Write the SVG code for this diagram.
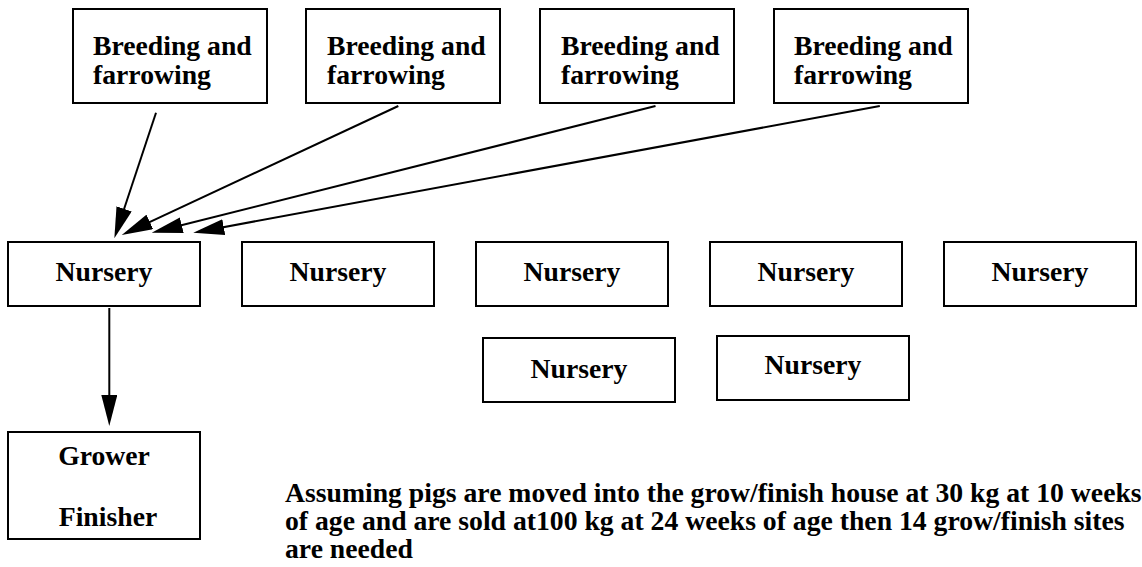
<svg xmlns="http://www.w3.org/2000/svg" width="1142" height="567" viewBox="0 0 1142 567">
<style>
.box{fill:#fff;stroke:#000;stroke-width:2}
.t{font-family:'Liberation Serif','DejaVu Serif',serif;font-weight:700;font-size:27.7px;fill:#000}
.c{text-anchor:middle}
.edge{stroke:#000;stroke-width:2;fill:none;marker-end:url(#ah)}
</style>
<defs>
<marker id="ah" markerUnits="userSpaceOnUse" viewBox="0 0 31 16" markerWidth="31" markerHeight="16" refX="21" refY="8" orient="auto">
<path d="M0,0 L31,8 L0,16 z" fill="#000"/>
</marker>
</defs>
<rect x="0" y="0" width="1142" height="567" fill="#fff"/>
<g id="connectors">
<line class="edge" x1="156" y1="112.7" x2="117.5" y2="228.8"/>
<line class="edge" x1="398.3" y1="106" x2="130.8" y2="230.8"/>
<line class="edge" x1="655.5" y1="106" x2="161.4" y2="230.3"/>
<line class="edge" x1="879.8" y1="106" x2="203.1" y2="230.9"/>
<line class="edge" x1="109.3" y1="308" x2="109.3" y2="416"/>
</g>
<g id="breeding1"><rect class="box" x="73" y="9" width="194" height="94"/><text class="t" font-family="Liberation Serif" x="93" y="55">Breeding and</text><text class="t" x="93" y="84">farrowing</text></g>
<g id="breeding2"><rect class="box" x="306" y="9" width="194" height="94"/><text class="t" x="327" y="55">Breeding and</text><text class="t" x="327" y="84">farrowing</text></g>
<g id="breeding3"><rect class="box" x="540" y="9" width="194" height="94"/><text class="t" x="561" y="55">Breeding and</text><text class="t" x="561" y="84">farrowing</text></g>
<g id="breeding4"><rect class="box" x="774" y="9" width="194" height="94"/><text class="t" x="794" y="55">Breeding and</text><text class="t" x="794" y="84">farrowing</text></g>
<g id="nursery1"><rect class="box" x="8" y="242" width="192" height="64"/><text class="t c" x="104" y="281">Nursery</text></g>
<g id="nursery2"><rect class="box" x="242" y="242" width="192" height="64"/><text class="t c" x="338" y="281">Nursery</text></g>
<g id="nursery3"><rect class="box" x="476" y="242" width="192" height="64"/><text class="t c" x="572" y="281">Nursery</text></g>
<g id="nursery4"><rect class="box" x="710" y="242" width="192" height="64"/><text class="t c" x="806" y="281">Nursery</text></g>
<g id="nursery5"><rect class="box" x="944" y="242" width="192" height="64"/><text class="t c" x="1040" y="281">Nursery</text></g>
<g id="nursery6"><rect class="box" x="483" y="338" width="192" height="64"/><text class="t c" x="579" y="378">Nursery</text></g>
<g id="nursery7"><rect class="box" x="717" y="336" width="192" height="64"/><text class="t c" x="813" y="374">Nursery</text></g>
<g id="grower"><rect class="box" x="8" y="432" width="192" height="107"/><text class="t c" x="104" y="465">Grower</text><text class="t c" x="108" y="526">Finisher</text></g>
<g id="note">
<text class="t" x="285" y="502">Assuming pigs are moved into the grow/finish house at 30 kg at 10 weeks</text>
<text class="t" x="285" y="530">of age and are sold at100 kg at 24 weeks of age then 14 grow/finish sites</text>
<text class="t" x="285" y="558">are needed</text>
</g>
</svg>
